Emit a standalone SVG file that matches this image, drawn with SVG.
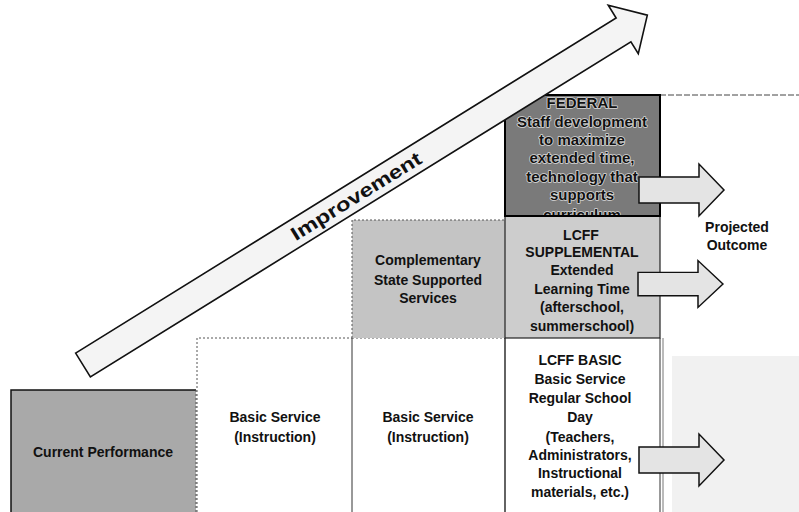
<svg xmlns="http://www.w3.org/2000/svg" width="799" height="512" viewBox="0 0 799 512">
  <defs>
    <style>
      .lbl { font-family: "Liberation Sans", Arial, sans-serif; font-weight: bold; font-size: 14px; fill: #111; text-anchor: middle; }
      .fed { font-size: 15px; stroke: #d8d8d8; stroke-width: 1.6px; paint-order: stroke; stroke-linejoin: round; }
      .dotted { fill: none; stroke: #555; stroke-width: 1; stroke-dasharray: 2 2; }
      .solid { fill: none; stroke: #222; stroke-width: 1.2; }
      .hollow { fill: #e4e4e4; stroke: #111; stroke-width: 1.5; stroke-linejoin: miter; }
    </style>
    <clipPath id="fedClip">
      <rect x="505" y="95" width="155" height="121"/>
    </clipPath>
    <path id="blockArrow" d="M0,-13 L60,-13 L60,-26 L85,0 L60,26 L60,13 L0,13 Z"/>
  </defs>

  <rect width="799" height="512" fill="#ffffff"/>

  <!-- faint shaded area behind the lower outcome arrow -->
  <rect x="672" y="356" width="127" height="156" fill="#f1f1f1"/>
  <line x1="660" y1="95" x2="799" y2="95" stroke="#444" stroke-width="1" stroke-dasharray="6 2"/>

  <!-- starting level -->
  <g id="current-performance">
    <rect x="11" y="390" width="185" height="122" fill="#a9a9a9"/>
    <path d="M11,512 V390 H196" fill="none" stroke="#111" stroke-width="1.5"/>
    <line x1="196" y1="390" x2="196" y2="512" class="dotted"/>
    <text class="lbl" x="103" y="457">Current Performance</text>
  </g>

  <g id="basic-service-1">
    <rect x="197" y="338" width="155" height="174" fill="#ffffff"/>
    <path d="M197,512 V338 H352" class="dotted"/>
    <text class="lbl" x="275" y="422">Basic Service</text>
    <text class="lbl" x="275" y="442">(Instruction)</text>
  </g>

  <g id="basic-service-2">
    <rect x="352" y="338" width="153" height="174" fill="#ffffff"/>
    <line x1="352" y1="338" x2="505" y2="338" class="dotted"/>
    <line x1="352" y1="338" x2="352" y2="512" stroke="#333" stroke-width="1"/>
    <text class="lbl" x="428" y="422">Basic Service</text>
    <text class="lbl" x="428" y="442">(Instruction)</text>
  </g>

  <g id="state-services">
    <rect x="352" y="220" width="153" height="118" fill="#c4c4c4"/>
    <path d="M352,338 V220 H505" class="dotted"/>
    <text class="lbl" x="428" y="265">Complementary</text>
    <text class="lbl" x="428" y="285">State Supported</text>
    <text class="lbl" x="428" y="303">Services</text>
  </g>

  <g id="lcff-basic">
    <rect x="505" y="338" width="155" height="174" fill="#ffffff"/>
    <line x1="505" y1="338" x2="505" y2="512" stroke="#222" stroke-width="1.4"/>
    <line x1="660" y1="338" x2="660" y2="512" stroke="#333" stroke-width="1"/>
    <line x1="663" y1="338" x2="663" y2="512" stroke="#777" stroke-width="1"/>
    <text class="lbl" x="580" y="365">LCFF BASIC</text>
    <text class="lbl" x="580" y="384">Basic Service</text>
    <text class="lbl" x="580" y="403">Regular School</text>
    <text class="lbl" x="580" y="422">Day</text>
    <text class="lbl" x="580" y="442">(Teachers,</text>
    <text class="lbl" x="580" y="460">Administrators,</text>
    <text class="lbl" x="580" y="478">Instructional</text>
    <text class="lbl" x="580" y="497">materials, etc.)</text>
  </g>

  <g id="lcff-supplemental">
    <rect x="505" y="216" width="155" height="122" fill="#cdcdcd"/>
    <rect x="505" y="216" width="155" height="122" class="solid"/>
    <text class="lbl" x="581" y="240">LCFF</text>
    <text class="lbl" x="582" y="257">SUPPLEMENTAL</text>
    <text class="lbl" x="582" y="275">Extended</text>
    <text class="lbl" x="582" y="294">Learning Time</text>
    <text class="lbl" x="582" y="312">(afterschool,</text>
    <text class="lbl" x="582" y="331">summerschool)</text>
  </g>

  <g id="federal">
    <rect x="505" y="95" width="155" height="121" fill="#7a7a7a"/>
    <g clip-path="url(#fedClip)">
      <text class="lbl fed" x="582" y="108">FEDERAL</text>
      <text class="lbl fed" x="582" y="127">Staff development</text>
      <text class="lbl fed" x="582" y="145">to maximize</text>
      <text class="lbl fed" x="582" y="163">extended time,</text>
      <text class="lbl fed" x="582" y="182">technology that</text>
      <text class="lbl fed" x="582" y="200">supports</text>
      <text class="lbl fed" x="582" y="220">curriculum</text>
    </g>
    <rect x="505" y="95" width="155" height="121" fill="none" stroke="#000" stroke-width="2"/>
  </g>

  <!-- outcome arrows -->
  <g id="connectors">
    <use href="#blockArrow" class="hollow" transform="translate(639,190)"/>
    <use href="#blockArrow" class="hollow" transform="translate(638,284) scale(1,0.9)"/>
    <use href="#blockArrow" class="hollow" transform="translate(639,460)"/>
  </g>

  <g id="projected-outcome">
    <text class="lbl" x="737" y="232" font-size="13">Projected</text>
    <text class="lbl" x="737" y="250" font-size="13">Outcome</text>
  </g>

  <!-- rising improvement arrow -->
  <g id="improvement" transform="translate(83,365) rotate(-31.8)">
    <path d="M0,-14 L636,-14 L636,-29 L664,0 L636,28 L636,14 L0,14 Z" fill="#f4f4f4" stroke="#111" stroke-width="1.6" stroke-linejoin="miter"/>
    <text x="321" y="7" font-family="Liberation Sans, Arial, sans-serif" font-size="19" font-weight="bold" fill="#111" text-anchor="middle" textLength="150" lengthAdjust="spacingAndGlyphs">Improvement</text>
  </g>
</svg>
